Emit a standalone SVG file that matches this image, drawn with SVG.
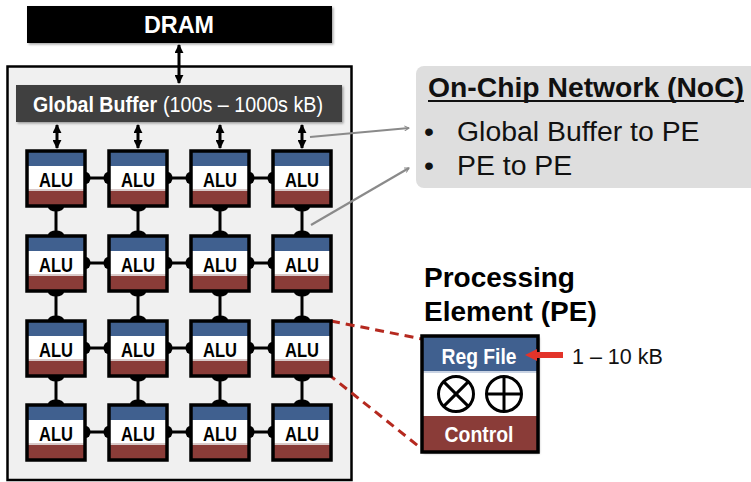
<svg xmlns="http://www.w3.org/2000/svg" xmlns:xlink="http://www.w3.org/1999/xlink" width="751" height="482" viewBox="0 0 751 482">
  <style>
    text { font-family: "Liberation Sans", Arial, sans-serif; }
    .wb { fill: #ffffff; font-weight: bold; }
    .alu { fill: #000000; font-weight: bold; font-size: 21px; text-anchor: middle; }
    .link { stroke: #000000; stroke-width: 3; fill: none; }
    .dot { fill: #000000; }
    .bus { stroke: #000000; stroke-width: 3; fill: none; marker-start: url(#headBlack); marker-end: url(#headBlack); }
    .pointer { stroke: #8a8a8a; stroke-width: 2.2; fill: none; marker-end: url(#headGray); }
    .zoomline { stroke: #b5291f; stroke-width: 3; stroke-dasharray: 9 6; fill: none; }
    .noc { font-size: 28.4px; fill: #111111; }
  </style>
  <defs>
    <marker id="headBlack" viewBox="0 0 10 10" refX="9" refY="5" markerWidth="3" markerHeight="3" orient="auto-start-reverse">
      <path d="M0,0 L10,5 L0,10 z" fill="#000000"/>
    </marker>
    <marker id="headGray" viewBox="0 0 12 12" refX="10" refY="6" markerWidth="6" markerHeight="6" markerUnits="userSpaceOnUse" orient="auto">
      <path d="M1,1 L10,6 L1,11" fill="none" stroke="#8a8a8a" stroke-width="2"/>
    </marker>
    <!-- one processing element tile: reg file / ALU / control bands -->
    <g id="pe">
      <rect x="0" y="0" width="58" height="55" fill="#ffffff"/>
      <rect x="0" y="0" width="58" height="15" fill="#40608f"/>
      <rect x="0" y="38" width="58" height="2" fill="#d9c9c8"/>
      <rect x="0" y="40" width="58" height="15" fill="#8a3c38"/>
      <rect x="0" y="0" width="58" height="55" fill="none" stroke="#000000" stroke-width="3.5"/>
    </g>
    <filter id="shadow" x="-10%" y="-10%" width="130%" height="130%">
      <feDropShadow dx="1.5" dy="1.5" stdDeviation="1" flood-color="#000000" flood-opacity="0.35"/>
    </filter>
  </defs>

  <rect width="751" height="482" fill="#ffffff"/>

  <!-- off-chip memory -->
  <g id="dram">
    <rect x="27" y="6" width="305" height="37" fill="#000000" filter="url(#shadow)"/>
    <text x="179" y="33" class="wb" font-size="24" text-anchor="middle" textLength="70" lengthAdjust="spacingAndGlyphs">DRAM</text>
  </g>

  <!-- chip outline -->
  <g id="chip">
    <rect x="7.5" y="66.5" width="344" height="413.5" fill="#f0f0f0" stroke="#000000" stroke-width="2.5"/>
  </g>

  <!-- shared on-chip buffer -->
  <g id="global-buffer">
    <rect x="16" y="85" width="326" height="37" fill="#404040" filter="url(#shadow)"/>
    <text x="33" y="112" class="wb" font-size="22" textLength="124" lengthAdjust="spacingAndGlyphs">Global Buffer</text>
    <text x="163" y="112" font-size="22" fill="#ffffff" textLength="160" lengthAdjust="spacingAndGlyphs">(100s – 1000s kB)</text>
  </g>

  <!-- links: DRAM/buffer bus, buffer-to-PE buses, PE mesh -->
  <g id="connectors">
    <line class="bus" x1="179" y1="45" x2="179" y2="83"/>
    <line class="bus" x1="57" y1="125" x2="57" y2="148"/>
    <line class="bus" x1="138" y1="125" x2="138" y2="148"/>
    <line class="bus" x1="220" y1="125" x2="220" y2="148"/>
    <line class="bus" x1="302" y1="125" x2="302" y2="148"/>

    <g id="mesh-h">
      <line class="link" x1="85" y1="178" x2="109" y2="178"/>
      <line class="link" x1="167" y1="178" x2="191" y2="178"/>
      <line class="link" x1="249" y1="178" x2="273" y2="178"/>
      <line class="link" x1="85" y1="263" x2="109" y2="263"/>
      <line class="link" x1="167" y1="263" x2="191" y2="263"/>
      <line class="link" x1="249" y1="263" x2="273" y2="263"/>
      <line class="link" x1="85" y1="348" x2="109" y2="348"/>
      <line class="link" x1="167" y1="348" x2="191" y2="348"/>
      <line class="link" x1="249" y1="348" x2="273" y2="348"/>
      <line class="link" x1="85" y1="432" x2="109" y2="432"/>
      <line class="link" x1="167" y1="432" x2="191" y2="432"/>
      <line class="link" x1="249" y1="432" x2="273" y2="432"/>
    </g>
    <g id="mesh-v">
      <line class="link" x1="56" y1="206" x2="56" y2="236"/>
      <line class="link" x1="138" y1="206" x2="138" y2="236"/>
      <line class="link" x1="220" y1="206" x2="220" y2="236"/>
      <line class="link" x1="302" y1="206" x2="302" y2="236"/>
      <line class="link" x1="56" y1="291" x2="56" y2="321"/>
      <line class="link" x1="138" y1="291" x2="138" y2="321"/>
      <line class="link" x1="220" y1="291" x2="220" y2="321"/>
      <line class="link" x1="302" y1="291" x2="302" y2="321"/>
      <line class="link" x1="56" y1="376" x2="56" y2="405"/>
      <line class="link" x1="138" y1="376" x2="138" y2="405"/>
      <line class="link" x1="220" y1="376" x2="220" y2="405"/>
      <line class="link" x1="302" y1="376" x2="302" y2="405"/>
    </g>
    <!-- port dots where links meet the tiles -->
    <g id="ports" class="dot">
      <ellipse cx="86" cy="178" rx="4.5" ry="6"/><ellipse cx="108" cy="178" rx="4.5" ry="6"/>
      <ellipse cx="168" cy="178" rx="4.5" ry="6"/><ellipse cx="190" cy="178" rx="4.5" ry="6"/>
      <ellipse cx="250" cy="178" rx="4.5" ry="6"/><ellipse cx="272" cy="178" rx="4.5" ry="6"/>
      <ellipse cx="86" cy="263" rx="4.5" ry="6"/><ellipse cx="108" cy="263" rx="4.5" ry="6"/>
      <ellipse cx="168" cy="263" rx="4.5" ry="6"/><ellipse cx="190" cy="263" rx="4.5" ry="6"/>
      <ellipse cx="250" cy="263" rx="4.5" ry="6"/><ellipse cx="272" cy="263" rx="4.5" ry="6"/>
      <ellipse cx="86" cy="348" rx="4.5" ry="6"/><ellipse cx="108" cy="348" rx="4.5" ry="6"/>
      <ellipse cx="168" cy="348" rx="4.5" ry="6"/><ellipse cx="190" cy="348" rx="4.5" ry="6"/>
      <ellipse cx="250" cy="348" rx="4.5" ry="6"/><ellipse cx="272" cy="348" rx="4.5" ry="6"/>
      <ellipse cx="86" cy="432" rx="4.5" ry="6"/><ellipse cx="108" cy="432" rx="4.5" ry="6"/>
      <ellipse cx="168" cy="432" rx="4.5" ry="6"/><ellipse cx="190" cy="432" rx="4.5" ry="6"/>
      <ellipse cx="250" cy="432" rx="4.5" ry="6"/><ellipse cx="272" cy="432" rx="4.5" ry="6"/>

      <ellipse cx="56" cy="207" rx="8" ry="4.5"/><ellipse cx="56" cy="235" rx="8" ry="4.5"/>
      <ellipse cx="138" cy="207" rx="8" ry="4.5"/><ellipse cx="138" cy="235" rx="8" ry="4.5"/>
      <ellipse cx="220" cy="207" rx="8" ry="4.5"/><ellipse cx="220" cy="235" rx="8" ry="4.5"/>
      <ellipse cx="302" cy="207" rx="8" ry="4.5"/><ellipse cx="302" cy="235" rx="8" ry="4.5"/>
      <ellipse cx="56" cy="292" rx="8" ry="4.5"/><ellipse cx="56" cy="320" rx="8" ry="4.5"/>
      <ellipse cx="138" cy="292" rx="8" ry="4.5"/><ellipse cx="138" cy="320" rx="8" ry="4.5"/>
      <ellipse cx="220" cy="292" rx="8" ry="4.5"/><ellipse cx="220" cy="320" rx="8" ry="4.5"/>
      <ellipse cx="302" cy="292" rx="8" ry="4.5"/><ellipse cx="302" cy="320" rx="8" ry="4.5"/>
      <ellipse cx="56" cy="377" rx="8" ry="4.5"/><ellipse cx="56" cy="404" rx="8" ry="4.5"/>
      <ellipse cx="138" cy="377" rx="8" ry="4.5"/><ellipse cx="138" cy="404" rx="8" ry="4.5"/>
      <ellipse cx="220" cy="377" rx="8" ry="4.5"/><ellipse cx="220" cy="404" rx="8" ry="4.5"/>
      <ellipse cx="302" cy="377" rx="8" ry="4.5"/><ellipse cx="302" cy="404" rx="8" ry="4.5"/>
    </g>

    <!-- callout pointers to the NoC note -->
    <line class="pointer" x1="310" y1="137" x2="409" y2="128"/>
    <line class="pointer" x1="311" y1="225" x2="409" y2="168"/>

    <!-- zoom lines from one tile to the enlarged PE -->
    <line class="zoomline" x1="331" y1="321" x2="422" y2="339"/>
    <line class="zoomline" x1="328" y1="374" x2="422" y2="449"/>
  </g>

  <!-- PE array, 4 x 4 -->
  <g id="pe-r1c1" transform="translate(27,151)"><use xlink:href="#pe"/><text x="29" y="36" class="alu" textLength="34" lengthAdjust="spacingAndGlyphs">ALU</text></g>
  <g id="pe-r1c2" transform="translate(109,151)"><use xlink:href="#pe"/><text x="29" y="36" class="alu" textLength="34" lengthAdjust="spacingAndGlyphs">ALU</text></g>
  <g id="pe-r1c3" transform="translate(191,151)"><use xlink:href="#pe"/><text x="29" y="36" class="alu" textLength="34" lengthAdjust="spacingAndGlyphs">ALU</text></g>
  <g id="pe-r1c4" transform="translate(273,151)"><use xlink:href="#pe"/><text x="29" y="36" class="alu" textLength="34" lengthAdjust="spacingAndGlyphs">ALU</text></g>

  <g id="pe-r2c1" transform="translate(27,236)"><use xlink:href="#pe"/><text x="29" y="36" class="alu" textLength="34" lengthAdjust="spacingAndGlyphs">ALU</text></g>
  <g id="pe-r2c2" transform="translate(109,236)"><use xlink:href="#pe"/><text x="29" y="36" class="alu" textLength="34" lengthAdjust="spacingAndGlyphs">ALU</text></g>
  <g id="pe-r2c3" transform="translate(191,236)"><use xlink:href="#pe"/><text x="29" y="36" class="alu" textLength="34" lengthAdjust="spacingAndGlyphs">ALU</text></g>
  <g id="pe-r2c4" transform="translate(273,236)"><use xlink:href="#pe"/><text x="29" y="36" class="alu" textLength="34" lengthAdjust="spacingAndGlyphs">ALU</text></g>

  <g id="pe-r3c1" transform="translate(27,321)"><use xlink:href="#pe"/><text x="29" y="36" class="alu" textLength="34" lengthAdjust="spacingAndGlyphs">ALU</text></g>
  <g id="pe-r3c2" transform="translate(109,321)"><use xlink:href="#pe"/><text x="29" y="36" class="alu" textLength="34" lengthAdjust="spacingAndGlyphs">ALU</text></g>
  <g id="pe-r3c3" transform="translate(191,321)"><use xlink:href="#pe"/><text x="29" y="36" class="alu" textLength="34" lengthAdjust="spacingAndGlyphs">ALU</text></g>
  <g id="pe-r3c4" transform="translate(273,321)"><use xlink:href="#pe"/><text x="29" y="36" class="alu" textLength="34" lengthAdjust="spacingAndGlyphs">ALU</text></g>

  <g id="pe-r4c1" transform="translate(27,405)"><use xlink:href="#pe"/><text x="29" y="36" class="alu" textLength="34" lengthAdjust="spacingAndGlyphs">ALU</text></g>
  <g id="pe-r4c2" transform="translate(109,405)"><use xlink:href="#pe"/><text x="29" y="36" class="alu" textLength="34" lengthAdjust="spacingAndGlyphs">ALU</text></g>
  <g id="pe-r4c3" transform="translate(191,405)"><use xlink:href="#pe"/><text x="29" y="36" class="alu" textLength="34" lengthAdjust="spacingAndGlyphs">ALU</text></g>
  <g id="pe-r4c4" transform="translate(273,405)"><use xlink:href="#pe"/><text x="29" y="36" class="alu" textLength="34" lengthAdjust="spacingAndGlyphs">ALU</text></g>

  <!-- NoC note -->
  <g id="noc-note">
    <rect x="416" y="66" width="345" height="122" rx="8" fill="#dedede"/>
    <text x="428" y="97" class="noc" font-weight="bold" textLength="316" lengthAdjust="spacingAndGlyphs">On-Chip Network (NoC)</text>
    <line x1="428" y1="101" x2="744" y2="101" stroke="#111111" stroke-width="2"/>
    <text x="424" y="141" class="noc">•</text>
    <text x="457" y="141" class="noc">Global Buffer to PE</text>
    <text x="424" y="175" class="noc">•</text>
    <text x="457" y="175" class="noc">PE to PE</text>
  </g>

  <!-- enlarged processing element -->
  <g id="pe-detail">
    <text x="424" y="287" font-size="28" font-weight="bold" fill="#000000">Processing</text>
    <text x="424" y="321" font-size="28" font-weight="bold" fill="#000000">Element (PE)</text>
    <g filter="url(#shadow)">
      <rect x="422" y="336" width="116" height="116" fill="#ffffff"/>
    </g>
    <rect x="422" y="336" width="116" height="36" fill="#40608f"/>
    <rect x="422" y="371" width="116" height="2" fill="#c9d3e3"/>
    <rect x="422" y="416" width="116" height="36" fill="#8a3c38"/>
    <rect x="422" y="336" width="116" height="116" fill="none" stroke="#000000" stroke-width="3.5"/>
    <text x="479" y="364" class="wb" font-size="22" text-anchor="middle" textLength="75" lengthAdjust="spacingAndGlyphs">Reg File</text>
    <text x="479" y="442" class="wb" font-size="22" text-anchor="middle" textLength="69" lengthAdjust="spacingAndGlyphs">Control</text>
    <g stroke="#000000" stroke-width="3" fill="none">
      <circle cx="456" cy="394" r="17.5"/>
      <line x1="443.6" y1="381.6" x2="468.4" y2="406.4"/>
      <line x1="468.4" y1="381.6" x2="443.6" y2="406.4"/>
      <circle cx="504" cy="394" r="17.5"/>
      <line x1="486.5" y1="394" x2="521.5" y2="394"/>
      <line x1="504" y1="376.5" x2="504" y2="411.5"/>
    </g>
  </g>

  <!-- register file size pointer, drawn over the enlarged PE -->
  <g id="rf-size">
    <g fill="#e3342a">
      <rect x="535" y="352" width="28" height="6"/>
      <path d="M525,355 L537,349 L537,361 z"/>
    </g>
    <text x="572" y="364" font-size="21.5" fill="#111111">1 – 10 kB</text>
  </g>
</svg>
